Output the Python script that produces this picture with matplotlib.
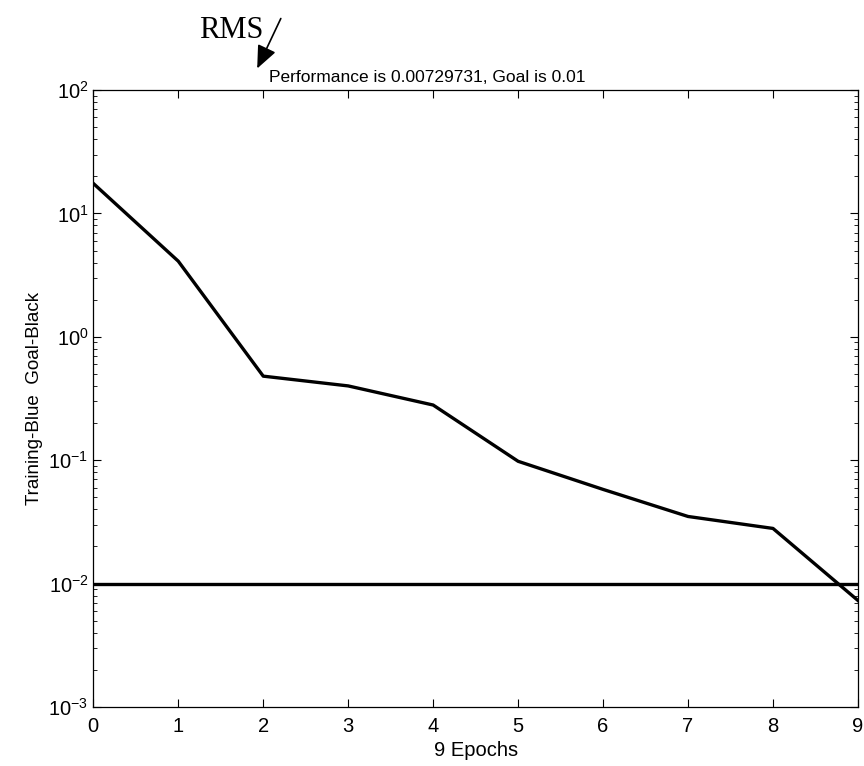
import matplotlib
matplotlib.use('Agg')
import matplotlib.pyplot as plt

plt.rcParams['font.family'] = ['Liberation Sans', 'DejaVu Sans']
plt.rcParams['mathtext.fontset'] = 'custom'
plt.rcParams['mathtext.rm'] = 'Liberation Sans'
plt.rcParams['mathtext.it'] = 'Liberation Sans:italic'
plt.rcParams['axes.unicode_minus'] = False

# dados
epocas = [0, 1, 2, 3, 4, 5, 6, 7, 8, 9]
desempenho = [17.5, 4.1, 0.48, 0.40, 0.28, 0.098, 0.058, 0.035, 0.028, 0.0073]
meta = 0.01
titulo = 'Performance is 0.00729731, Goal is 0.01'

fig = plt.figure(figsize=(8.64, 7.66), dpi=100)
ax = fig.add_axes([0.108, 0.077, 0.885, 0.8055])

ax.semilogy(epocas, desempenho, color='black', linewidth=2.4)
ax.plot([epocas[0], epocas[-1]], [meta, meta], color='black', linewidth=2.4)

ax.set_xlim(0, 9)
ax.set_ylim(1e-3, 1e2)
ax.set_xticks(epocas)
ax.tick_params(which='both', direction='in', top=True, right=True, labelsize=14.5)
ax.tick_params(axis='x', pad=7)
ax.tick_params(which='major', length=6)
ax.tick_params(which='minor', length=3)
for s in ax.spines.values():
    s.set_linewidth(0.9)

ax.set_title(titulo, fontsize=12.5, pad=6, x=0.437)
ax.set_xlabel('9 Epochs', fontsize=14.5, labelpad=4)
ax.set_ylabel('Training-Blue  Goal-Black', fontsize=13.5, labelpad=4)

# seta "RMS" apontando para o titulo
fig.text(199 / 864, 1 - 38 / 766, 'RMS', family='Liberation Serif', fontsize=22)
ax.annotate('', xy=(256 / 864, 1 - 71 / 766), xytext=(282 / 864, 1 - 16 / 766),
            xycoords='figure fraction', textcoords='figure fraction',
            arrowprops=dict(arrowstyle='-|>,head_length=1.4,head_width=0.6',
                            color='black', lw=1.2))

fig.savefig('out.png', dpi=100)
